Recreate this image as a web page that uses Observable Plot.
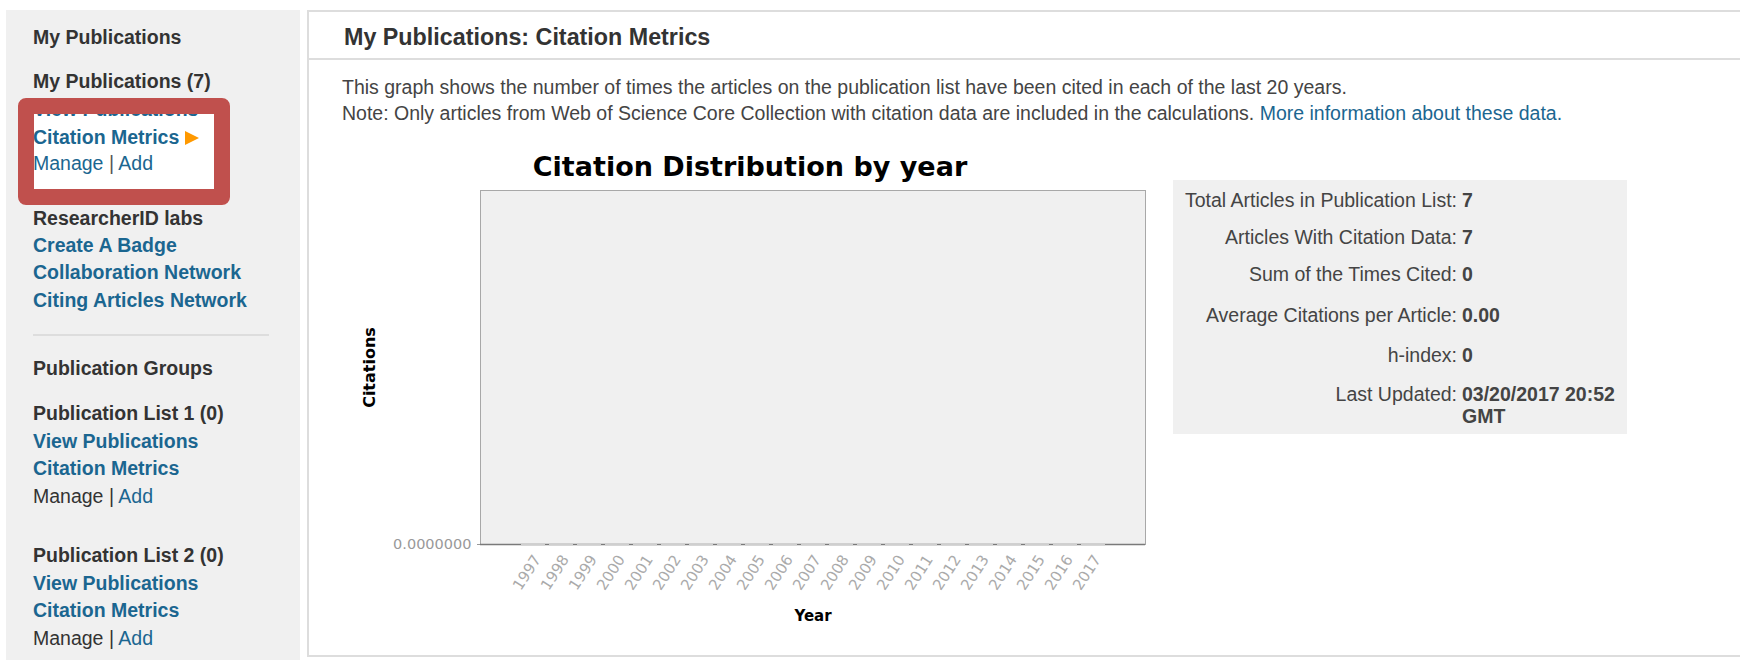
<!DOCTYPE html>
<html>
<head>
<meta charset="utf-8">
<script src="https://cdn.jsdelivr.net/npm/d3@7"></script>
<script src="https://cdn.jsdelivr.net/npm/@observablehq/plot@0.6"></script>
<style>
  html, body { margin:0; padding:0; background:#fff; }
  body { width:1740px; height:660px; overflow:hidden; position:relative;
         font-family:"Liberation Sans", Arial, sans-serif; color:#333; }
  .abs { position:absolute; white-space:nowrap; line-height:28px; height:28px; }
  .h { color:#333; font-weight:bold; font-size:19.5px; }
  .lk { color:#1b6690; font-size:19.5px; }
  .lkb { color:#1b6690; font-weight:bold; font-size:19.5px; }
  .tx { color:#444; font-size:19.5px; }
  #sidebar { position:absolute; left:6px; top:10px; width:294px; height:660px; background:#f0f0f0; }
  #redfill { position:absolute; left:18px; top:98px; width:212px; height:107px; background:#fff; border-radius:8px; }
  #redbox { position:absolute; left:18px; top:98px; width:180px; height:75px; border:16px solid #c0504d; border-radius:8px; }
  #panel { position:absolute; left:307px; top:10px; width:1500px; height:643px; border:2px solid #ddd; }
  #panelhead { position:absolute; left:307px; top:58px; width:1500px; height:0; border-top:2px solid #ddd; }
  #stats { position:absolute; left:1173px; top:180px; width:454px; height:254px; background:#f0f0f0; }
  .sl { position:absolute; text-align:right; color:#444; font-size:19.5px; line-height:22px; white-space:nowrap; }
  .sv { position:absolute; left:1462px; color:#444; font-weight:bold; font-size:19.5px; line-height:22px; white-space:nowrap; }
  #charttitle { position:absolute; left:450px; width:600px; top:150px; text-align:center;
     font-family:"DejaVu Sans", sans-serif; font-weight:bold; font-size:27px; line-height:34px; color:#000; }
  #chart { position:absolute; left:340px; top:185px; }
  .tri { display:inline-block; width:0; height:0; border-left:14px solid #f90;
         border-top:7.5px solid transparent; border-bottom:7.5px solid transparent; margin-left:6px; vertical-align:-1px; }
</style>
</head>
<body>
<div id="sidebar"></div>
<div id="redfill"></div>
<div class="abs h" style="left:33px;top:23px">My Publications</div>
<div class="abs h" style="left:33px;top:67px">My Publications (7)</div>
<div class="abs lkb" style="left:33px;top:94.5px">View Publications</div>
<div class="abs lkb" style="left:33px;top:122.5px">Citation Metrics<span class="tri"></span></div>
<div class="abs lk" style="left:33px;top:149px">Manage <span style="color:#555">|</span> Add</div>
<div id="redbox"></div>
<div class="abs h" style="left:33px;top:203.5px">ResearcherID labs</div>
<div class="abs lkb" style="left:33px;top:230.5px">Create A Badge</div>
<div class="abs lkb" style="left:33px;top:258px">Collaboration Network</div>
<div class="abs lkb" style="left:33px;top:286px">Citing Articles Network</div>
<div style="position:absolute;left:33px;top:334px;width:236px;height:2px;background:#ddd"></div>
<div class="abs h" style="left:33px;top:354px">Publication Groups</div>
<div class="abs h" style="left:33px;top:399px">Publication List 1 (0)</div>
<div class="abs lkb" style="left:33px;top:426.5px">View Publications</div>
<div class="abs lkb" style="left:33px;top:454px">Citation Metrics</div>
<div class="abs tx" style="left:33px;top:482px;color:#333">Manage | <span class="lk">Add</span></div>
<div class="abs h" style="left:33px;top:541px">Publication List 2 (0)</div>
<div class="abs lkb" style="left:33px;top:568.5px">View Publications</div>
<div class="abs lkb" style="left:33px;top:596px">Citation Metrics</div>
<div class="abs tx" style="left:33px;top:624px;color:#333">Manage | <span class="lk">Add</span></div>

<div id="panel"></div>
<div id="panelhead"></div>
<div class="abs" style="left:344px;top:22.5px;font-weight:bold;font-size:23.3px;color:#333">My Publications: Citation Metrics</div>
<div class="abs tx" style="left:342px;top:72.5px">This graph shows the number of times the articles on the publication list have been cited in each of the last 20 years.</div>
<div class="abs tx" style="left:342px;top:99px">Note: Only articles from Web of Science Core Collection with citation data are included in the calculations. <span class="lk">More information about these data.</span></div>

<div id="charttitle">Citation Distribution by year</div>
<div id="chart"></div>

<div id="stats"></div>

<script>
// ---- chart data ----
const years = ["1997","1998","1999","2000","2001","2002","2003","2004","2005","2006","2007","2008","2009","2010","2011","2012","2013","2014","2015","2016","2017"];
const citations = [0,0,0,0,0,0,0,0,0,0,0,0,0,0,0,0,0,0,0,0,0];
const yTicks = [0];
const yAxisLabel = "Citations";
const xAxisLabel = "Year";

// ---- summary table ----
const statLabels = ["Total Articles in Publication List:", "Articles With Citation Data:", "Sum of the Times Cited:", "Average Citations per Article:", "h-index:", "Last Updated:"];
const statValues = ["7", "7", "0", "0.00", "0", "03/20/2017 20:52<br>GMT"];
const statRowY = [200, 236.5, 274, 315, 355, 394];

statLabels.forEach((l, i) => {
  const a = document.createElement("div");
  a.className = "sl"; a.style.right = (1740 - 1457) + "px"; a.style.top = (statRowY[i] - 11) + "px";
  a.textContent = l; document.body.appendChild(a);
  const v = document.createElement("div");
  v.className = "sv"; v.style.top = (statRowY[i] - 11) + "px";
  v.innerHTML = statValues[i]; document.body.appendChild(v);
});

const data = years.map((y, i) => ({year: y, citations: citations[i]}));

const chart = Plot.plot({
  width: 820, height: 450,
  marginLeft: 140, marginRight: 15, marginTop: 5, marginBottom: 91,
  style: {background: "transparent", fontFamily: "DejaVu Sans, sans-serif", overflow: "visible"},
  x: {type: "band", domain: years, paddingInner: 0, paddingOuter: 1, label: null},
  y: {domain: [0, 1], label: null},
  marks: [
    Plot.frame({fill: "#f0f0f0", stroke: "#a8a8a8"}),
    Plot.ruleY([0], {stroke: "#7a7a7a", strokeWidth: 1.5}),
    Plot.tickY(data, {x: "year", y: "citations", stroke: "#cfcfcf", strokeWidth: 2, insetLeft: 2, insetRight: 2}),
    Plot.barY(data, {x: "year", y: "citations", fill: "#4f81bd"}),
    Plot.axisY({ticks: yTicks, tickFormat: d3.format(".7f"), tickSize: 3, tickPadding: 6, fontSize: 14.5, color: "#999", label: null}),
    Plot.axisX({tickSize: 0, tickRotate: -57, tickPadding: 12, dx: 4, fontSize: 15, color: "#aaa", label: null}),
    Plot.text([yAxisLabel], {text: d => d, frameAnchor: "left", textAnchor: "middle", lineAnchor: "middle", dx: -111, rotate: -90, fontWeight: "bold", fontSize: 16, fill: "#000"}),
    Plot.text([xAxisLabel], {text: d => d, frameAnchor: "bottom", textAnchor: "middle", lineAnchor: "middle", dy: 72, fontWeight: "bold", fontSize: 15, fill: "#000"})
  ]
});
document.getElementById("chart").appendChild(chart);
</script>
</body>
</html>
